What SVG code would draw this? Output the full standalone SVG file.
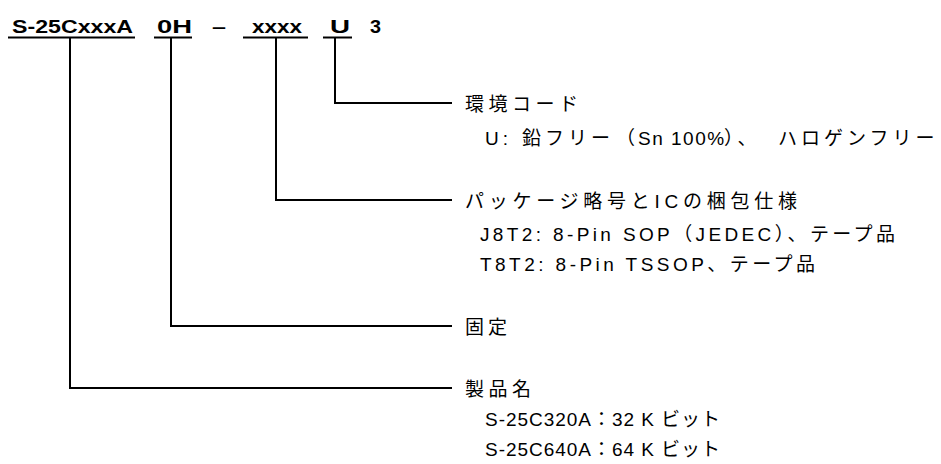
<svg xmlns="http://www.w3.org/2000/svg" width="941" height="464" viewBox="0 0 941 464">
<style>
.t{font-family:"Liberation Sans","Noto Sans CJK JP",Arial,sans-serif;font-size:19px;fill:#000}
.b{font-family:"Liberation Sans",Arial,sans-serif;font-size:18px;font-weight:bold;fill:#000}
.ln{fill:none;stroke:#000;stroke-width:2}
.w{letter-spacing:4px}
.n{letter-spacing:1.5px}
</style>
<rect width="941" height="464" fill="#fff"/>
<g id="title">
<text class="b" x="12" y="32.5" textLength="121" lengthAdjust="spacingAndGlyphs">S-25CxxxA</text>
<text class="b" x="157" y="32.5" textLength="35" lengthAdjust="spacingAndGlyphs">0H</text>
<text class="b" x="212" y="32.5" textLength="14" lengthAdjust="spacingAndGlyphs">–</text>
<text class="b" x="252" y="32.5" textLength="50" lengthAdjust="spacingAndGlyphs">xxxx</text>
<text class="b" x="330" y="32.5" textLength="20" lengthAdjust="spacingAndGlyphs">U</text>
<text class="b" x="370" y="32.5" textLength="11" lengthAdjust="spacingAndGlyphs">3</text>
</g>
<g id="connectors">
<line class="ln" x1="8" y1="37.5" x2="135" y2="37.5"/>
<line class="ln" x1="154" y1="37.5" x2="192" y2="37.5"/>
<line class="ln" x1="243" y1="37.5" x2="308" y2="37.5"/>
<line class="ln" x1="323" y1="37.5" x2="352" y2="37.5"/>
<polyline class="ln" points="335,37.5 335,103 452,103"/>
<polyline class="ln" points="276,37.5 276,200 452,200"/>
<polyline class="ln" points="171,37.5 171,326 452,326"/>
<polyline class="ln" points="70,37.5 70,388 452,388"/>
</g>
<g id="env">
<text class="t" x="465" y="111" textLength="113" lengthAdjust="spacing">環境コード</text>
<text class="t" y="144.5"><tspan class="w" x="485">U:</tspan><tspan class="w" x="522">鉛フリー</tspan><tspan x="616">（</tspan><tspan class="n" x="638">Sn 100%</tspan><tspan class="w" x="724">）、</tspan><tspan class="w" x="778">ハロゲンフリー</tspan></text>
</g>
<g id="pkg">
<text class="t" x="465" y="208" textLength="332" lengthAdjust="spacing">パッケージ略号とICの梱包仕様</text>
<text class="t" x="480" y="241" textLength="415" lengthAdjust="spacing">J8T2: 8-Pin SOP（JEDEC）、テープ品</text>
<text class="t" x="480" y="271" textLength="335" lengthAdjust="spacing">T8T2: 8-Pin TSSOP、テープ品</text>
</g>
<g id="fixed">
<text class="t" x="465" y="334" textLength="42" lengthAdjust="spacing">固定</text>
</g>
<g id="product">
<text class="t" x="465" y="396" textLength="66" lengthAdjust="spacing">製品名</text>
<text class="t" x="485" y="426" textLength="235" lengthAdjust="spacing">S-25C320A：32 K ビット</text>
<text class="t" x="485" y="456" textLength="235" lengthAdjust="spacing">S-25C640A：64 K ビット</text>
</g>
</svg>
